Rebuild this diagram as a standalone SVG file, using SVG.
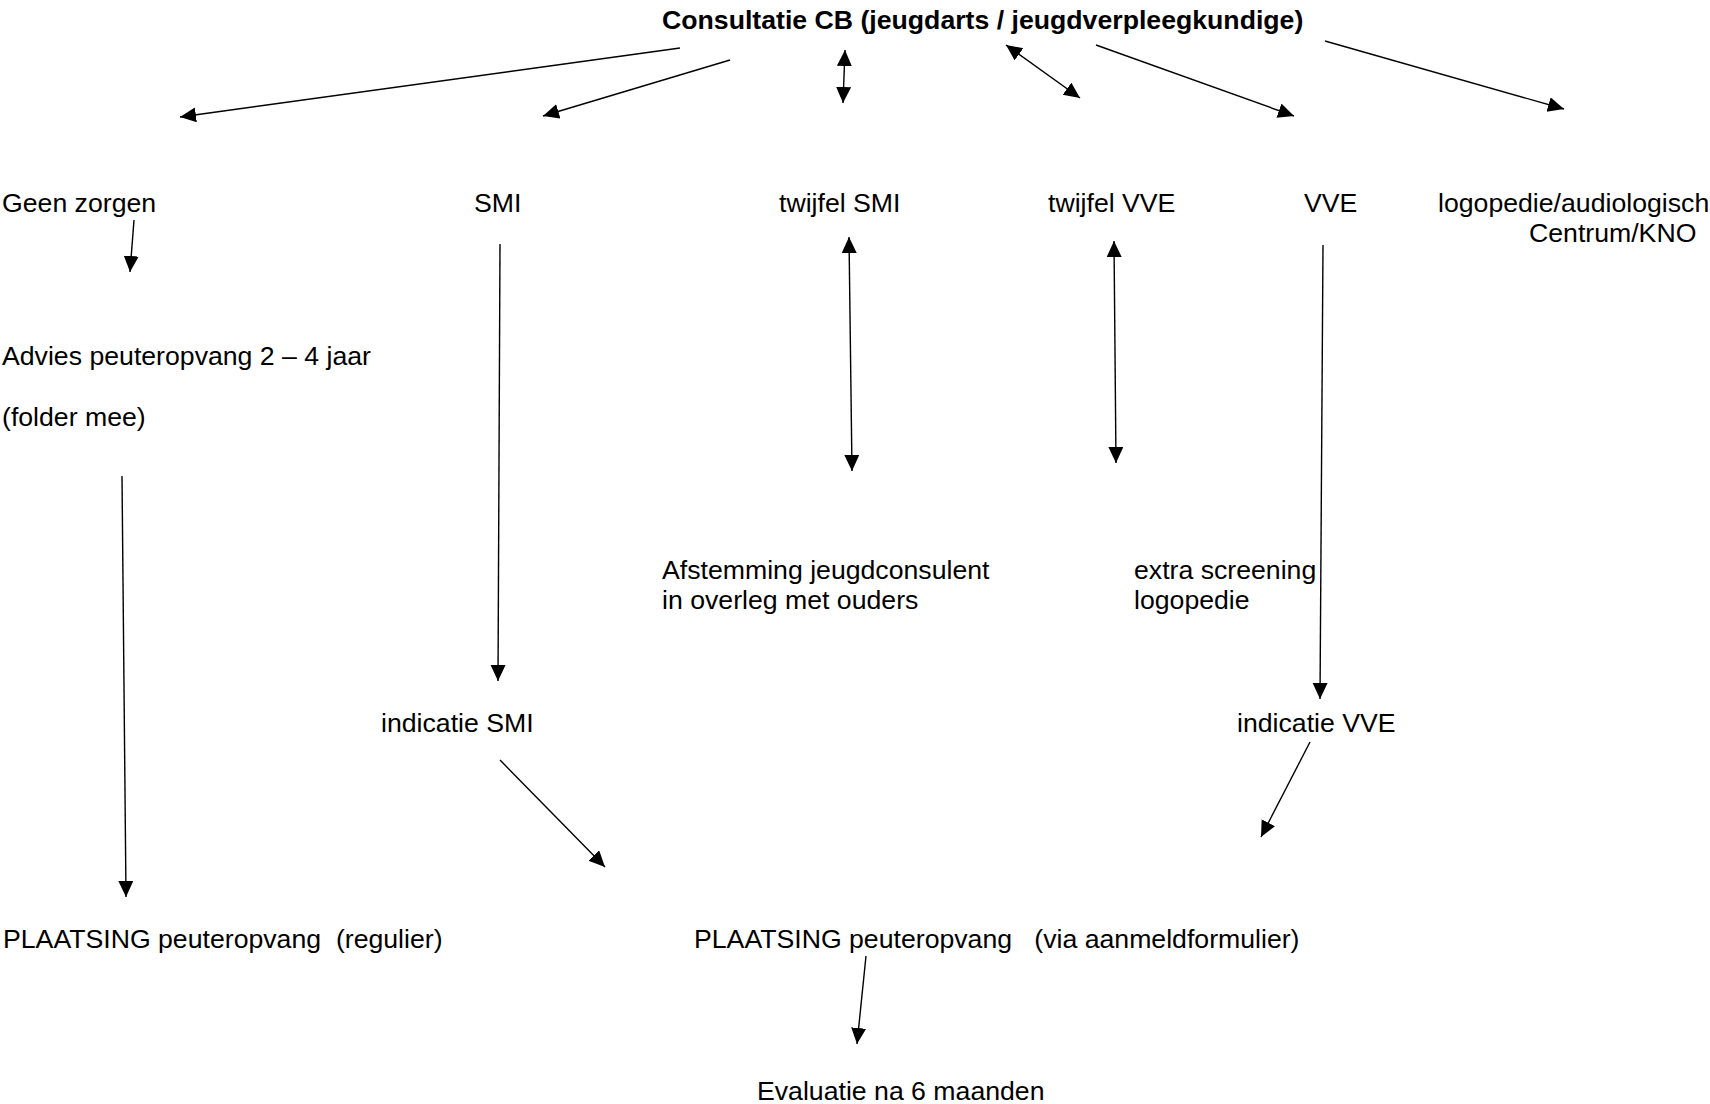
<svg xmlns="http://www.w3.org/2000/svg" width="1710" height="1104" viewBox="0 0 1710 1104">
<style>
text{font-family:"Liberation Sans",Arial,sans-serif;font-size:26.67px;fill:#000;white-space:pre}
.b{font-weight:bold}
.c line{stroke:#000;stroke-width:1.4;fill:none}
</style>
<defs>
<marker id="ah" markerUnits="userSpaceOnUse" markerWidth="18" markerHeight="16" refX="16" refY="7.5" orient="auto-start-reverse" viewBox="0 0 18 16">
<path d="M0,0 L16,7.5 L0,15 z" fill="#000"/>
</marker>
</defs>
<rect width="1710" height="1104" fill="#fff"/>
<g id="n-consultatie"><text class="b" x="662" y="29">Consultatie CB (jeugdarts / jeugdverpleegkundige)</text></g>
<g id="n-geen-zorgen"><text x="2" y="212">Geen zorgen</text></g>
<g id="n-smi"><text x="474" y="212">SMI</text></g>
<g id="n-twijfel-smi"><text x="779" y="212">twijfel SMI</text></g>
<g id="n-twijfel-vve"><text x="1048" y="212">twijfel VVE</text></g>
<g id="n-vve"><text x="1304" y="212">VVE</text></g>
<g id="n-logopedie"><text x="1438" y="212">logopedie/audiologisch</text><text x="1529" y="242">Centrum/KNO</text></g>
<g id="n-advies"><text x="2" y="365">Advies peuteropvang 2 – 4 jaar</text><text x="2" y="426">(folder mee)</text></g>
<g id="n-afstemming"><text x="662" y="579">Afstemming jeugdconsulent</text><text x="662" y="609">in overleg met ouders</text></g>
<g id="n-extra-screening"><text x="1134" y="579">extra screening</text><text x="1134" y="609">logopedie</text></g>
<g id="n-indicatie-smi"><text x="381" y="732">indicatie SMI</text></g>
<g id="n-indicatie-vve"><text x="1237" y="732">indicatie VVE</text></g>
<g id="n-plaatsing-regulier"><text x="3" y="948">PLAATSING peuteropvang  (regulier)</text></g>
<g id="n-plaatsing-via"><text x="694" y="948">PLAATSING peuteropvang   (via aanmeldformulier)</text></g>
<g id="n-evaluatie"><text x="757" y="1100">Evaluatie na 6 maanden</text></g>
<g id="connectors" class="c">
<line x1="680" y1="48" x2="180" y2="117" marker-end="url(#ah)"/>
<line x1="730" y1="60" x2="543" y2="116" marker-end="url(#ah)"/>
<line x1="845" y1="50" x2="843" y2="103" marker-start="url(#ah)" marker-end="url(#ah)"/>
<line x1="1006" y1="45" x2="1080" y2="98" marker-start="url(#ah)" marker-end="url(#ah)"/>
<line x1="1096" y1="45" x2="1294" y2="116" marker-end="url(#ah)"/>
<line x1="1325" y1="41" x2="1564" y2="109" marker-end="url(#ah)"/>
<line x1="134" y1="220" x2="130" y2="272" marker-end="url(#ah)"/>
<line x1="500" y1="244" x2="498" y2="681" marker-end="url(#ah)"/>
<line x1="849" y1="237" x2="852" y2="471" marker-start="url(#ah)" marker-end="url(#ah)"/>
<line x1="1114" y1="241" x2="1116" y2="463" marker-start="url(#ah)" marker-end="url(#ah)"/>
<line x1="1323" y1="245" x2="1320" y2="699" marker-end="url(#ah)"/>
<line x1="122" y1="476" x2="126" y2="897" marker-end="url(#ah)"/>
<line x1="500" y1="760" x2="605" y2="867" marker-end="url(#ah)"/>
<line x1="1310" y1="742" x2="1261" y2="837" marker-end="url(#ah)"/>
<line x1="866" y1="956" x2="857" y2="1044" marker-end="url(#ah)"/>
</g>
</svg>
